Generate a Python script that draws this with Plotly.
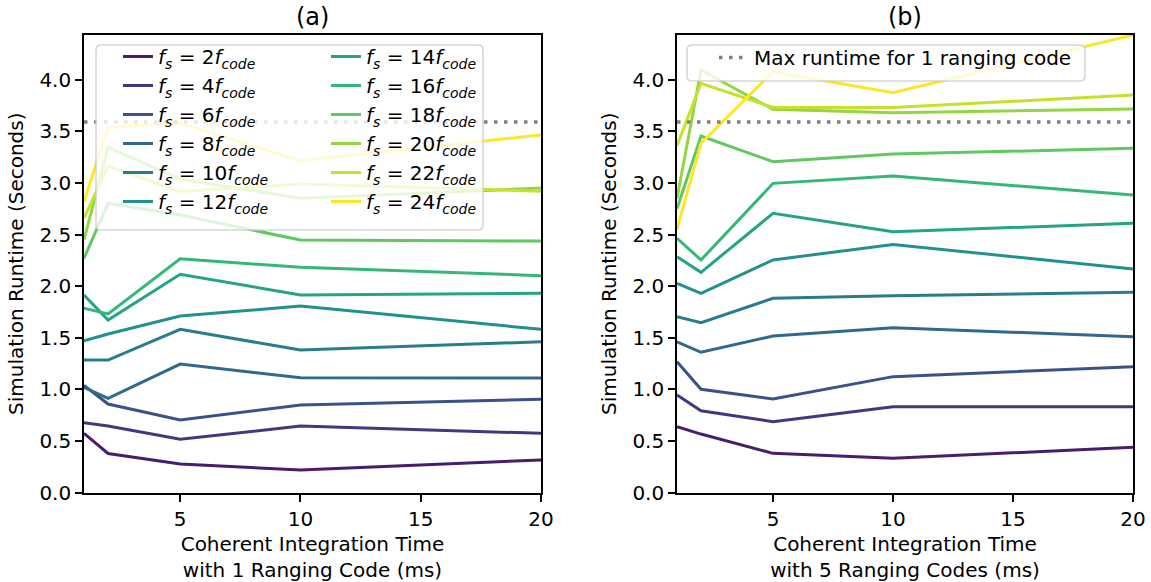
import plotly.graph_objects as go
from plotly.colors import sample_colorscale

# ---------------- data ----------------
x_ms = [1, 2, 5, 10, 20]
fs_mult = [2, 4, 6, 8, 10, 12, 14, 16, 18, 20, 22, 24]

# panel (a): 1 ranging code
a_fs2 = [0.575, 0.38, 0.278, 0.22, 0.317]
a_fs4 = [0.678, 0.646, 0.517, 0.646, 0.575]
a_fs6 = [1.04, 0.859, 0.704, 0.849, 0.905]
a_fs8 = [1.02, 0.914, 1.246, 1.114, 1.11]
a_fs10 = [1.285, 1.285, 1.582, 1.382, 1.462]
a_fs12 = [1.472, 1.537, 1.711, 1.808, 1.582]
a_fs14 = [1.915, 1.673, 2.115, 1.915, 1.931]
a_fs16 = [1.786, 1.731, 2.266, 2.183, 2.102]
a_fs18 = [2.27, 2.803, 2.69, 2.447, 2.437]
a_fs20 = [2.45, 3.345, 3.038, 2.851, 2.95]
a_fs22 = [2.66, 3.164, 2.915, 2.99, 2.92]
a_fs24 = [2.82, 3.539, 3.578, 3.216, 3.464]

# panel (b): 5 ranging codes
b_fs2 = [0.639, 0.568, 0.381, 0.333, 0.44]
b_fs4 = [0.946, 0.794, 0.688, 0.833, 0.833]
b_fs6 = [1.269, 1.001, 0.907, 1.124, 1.22]
b_fs8 = [1.462, 1.36, 1.518, 1.598, 1.511]
b_fs10 = [1.705, 1.646, 1.883, 1.908, 1.941]
b_fs12 = [2.028, 1.931, 2.254, 2.405, 2.167]
b_fs14 = [2.286, 2.134, 2.706, 2.528, 2.609]
b_fs16 = [2.464, 2.254, 2.996, 3.067, 2.883]
b_fs18 = [2.75, 3.455, 3.206, 3.28, 3.335]
b_fs20 = [2.85, 4.094, 3.713, 3.68, 3.716]
b_fs22 = [3.36, 3.965, 3.732, 3.73, 3.852]
b_fs24 = [2.55, 3.384, 4.077, 3.874, 4.433]

max_runtime_1code = 3.59

panel_a = [a_fs2, a_fs4, a_fs6, a_fs8, a_fs10, a_fs12,
           a_fs14, a_fs16, a_fs18, a_fs20, a_fs22, a_fs24]
panel_b = [b_fs2, b_fs4, b_fs6, b_fs8, b_fs10, b_fs12,
           b_fs14, b_fs16, b_fs18, b_fs20, b_fs22, b_fs24]

x_ticks = [5, 10, 15, 20]
x_titles = ["Coherent Integration Time<br>with 1 Ranging Code (ms)",
            "Coherent Integration Time<br>with 5 Ranging Codes (ms)"]
y_title = "Simulation Runtime (Seconds)"
panel_titles = ["(a)", "(b)"]
hline_label = "Max runtime for 1 ranging code"

# ---------------- style ----------------
W, H = 1151, 582
FONT = "DejaVu Sans"
FS = 20
colors = sample_colorscale("Viridis", [i / 12 for i in range(1, 13)])


def px_x(p):
    return p / W


def px_y(p):
    return 1 - p / H


def rounded_box(x0, y0, x1, y1, r=5):
    # pixel coordinates (top-left origin) -> paper path
    X0, X1 = px_x(x0), px_x(x1)
    Y0, Y1 = px_y(y1), px_y(y0)  # Y0 bottom, Y1 top
    rx, ry = r / W, r / H
    return (f"M {X0+rx},{Y0} L {X1-rx},{Y0} Q {X1},{Y0} {X1},{Y0+ry} "
            f"L {X1},{Y1-ry} Q {X1},{Y1} {X1-rx},{Y1} L {X0+rx},{Y1} "
            f"Q {X0},{Y1} {X0},{Y1-ry} L {X0},{Y0+ry} Q {X0},{Y0} {X0+rx},{Y0} Z")


def label(m):
    return f"<i>f</i><sub><i>s</i></sub> = {m}<i>f</i><sub><i>code</i></sub>"


fig = go.Figure()

for i, (m, ys) in enumerate(zip(fs_mult, panel_a)):
    fig.add_trace(go.Scatter(
        x=x_ms, y=ys, mode="lines", name=label(m),
        line=dict(color=colors[i], width=3),
        xaxis="x", yaxis="y",
        legend="legend" if i < 6 else "legend2",
        showlegend=True,
    ))
fig.add_trace(go.Scatter(
    x=[1, 20], y=[max_runtime_1code] * 2, mode="lines",
    line=dict(color="#808080", width=3.5, dash="3.5px,6.5px"),
    xaxis="x", yaxis="y", showlegend=False,
))

for i, (m, ys) in enumerate(zip(fs_mult, panel_b)):
    fig.add_trace(go.Scatter(
        x=x_ms, y=ys, mode="lines", name=label(m),
        line=dict(color=colors[i], width=3),
        xaxis="x2", yaxis="y2", showlegend=False,
    ))
fig.add_trace(go.Scatter(
    x=[1, 20], y=[max_runtime_1code] * 2, mode="lines", name=hline_label,
    line=dict(color="#808080", width=3.5, dash="3.5px,6.5px"),
    xaxis="x2", yaxis="y2", legend="legend3", showlegend=True,
))

xdom1 = [px_x(84), px_x(541)]
xdom2 = [px_x(677), px_x(1133)]
ydom = [px_y(492.7), px_y(34.7)]

axis_common = dict(
    showline=True, linecolor="black", linewidth=1.6, mirror=True,
    ticks="outside", ticklen=7, tickwidth=1.6, tickcolor="black",
    showgrid=False, zeroline=False, automargin=False,
    tickfont=dict(family=FONT, size=FS, color="black"),
)

fig.update_layout(
    width=W, height=H,
    margin=dict(l=0, r=0, t=0, b=0, autoexpand=False),
    paper_bgcolor="white", plot_bgcolor="white",
    font=dict(family=FONT, size=FS, color="black"),
    xaxis=dict(domain=xdom1, range=[1, 20], tickvals=x_ticks, anchor="y",
               title=dict(text=x_titles[0], standoff=8,
                          font=dict(family=FONT, size=FS)),
               **axis_common),
    yaxis=dict(domain=ydom, range=[0, 4.436], dtick=0.5, tickformat=".1f",
               anchor="x",
               title=dict(text=y_title, standoff=10,
                          font=dict(family=FONT, size=FS)),
               **axis_common),
    xaxis2=dict(domain=xdom2, range=[1, 20], tickvals=x_ticks, anchor="y2",
                title=dict(text=x_titles[1], standoff=8,
                           font=dict(family=FONT, size=FS)),
                **axis_common),
    yaxis2=dict(domain=ydom, range=[0, 4.436], dtick=0.5, tickformat=".1f",
                anchor="x2",
                title=dict(text=y_title, standoff=10,
                           font=dict(family=FONT, size=FS)),
                **axis_common),
    legend=dict(x=px_x(118), y=px_y(37), xanchor="left", yanchor="top",
                bgcolor="rgba(0,0,0,0)", borderwidth=0,
                font=dict(family=FONT, size=FS), tracegroupgap=0),
    legend2=dict(x=px_x(326), y=px_y(37), xanchor="left", yanchor="top",
                 bgcolor="rgba(0,0,0,0)", borderwidth=0,
                 font=dict(family=FONT, size=FS), tracegroupgap=0),
    legend3=dict(x=px_x(714), y=px_y(38), xanchor="left", yanchor="top",
                 bgcolor="rgba(0,0,0,0)", borderwidth=0,
                 font=dict(family=FONT, size=FS)),
    shapes=[
        dict(type="path", path=rounded_box(96, 45, 483, 230), xref="paper",
             yref="paper", fillcolor="rgba(255,255,255,0.8)",
             line=dict(color="rgba(204,204,204,0.8)", width=1.6), layer="above"),
        dict(type="path", path=rounded_box(687, 45, 1085, 81), xref="paper",
             yref="paper", fillcolor="rgba(255,255,255,0.8)",
             line=dict(color="rgba(204,204,204,0.8)", width=1.6), layer="above"),
    ],
    annotations=[
        dict(text=panel_titles[0], x=sum(xdom1) / 2, y=px_y(17), xref="paper",
             yref="paper", showarrow=False, font=dict(family=FONT, size=24),
             xanchor="center", yanchor="middle"),
        dict(text=panel_titles[1], x=sum(xdom2) / 2, y=px_y(17), xref="paper",
             yref="paper", showarrow=False, font=dict(family=FONT, size=24),
             xanchor="center", yanchor="middle"),
    ],
)

fig.write_html(
    "out.html",
    config={"displayModeBar": False},
    post_script="document.body.style.margin='0';document.body.style.padding='0';"
                "document.body.style.overflow='hidden';",
)
